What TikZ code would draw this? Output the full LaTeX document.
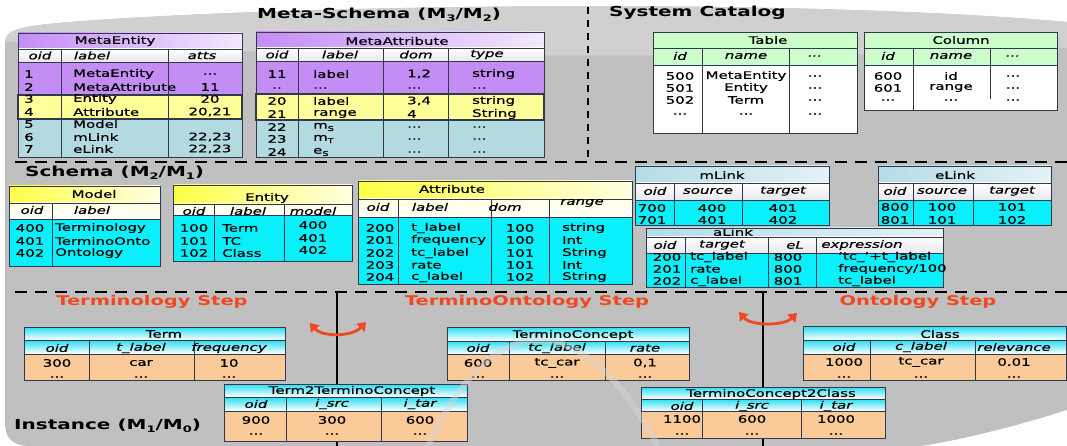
\documentclass[tikz,border=0pt]{standalone}
\usepackage{fontspec}
\setmainfont[FakeStretch=1.45, UprightFeatures={FakeBold=0.7}, ItalicFeatures={FakeBold=0.7}]{DejaVu Sans}
\usetikzlibrary{arrows.meta}
\definecolor{bgdark}{RGB}{192,192,192}
\definecolor{bglight}{RGB}{208,208,208}
\definecolor{mpurple}{RGB}{196,140,245}
\definecolor{mpurpleL}{RGB}{243,232,255}
\definecolor{myellow}{RGB}{255,255,153}
\definecolor{mteal}{RGB}{178,218,224}
\definecolor{hdrgray}{RGB}{232,232,238}
\definecolor{catgreen}{RGB}{204,255,204}
\definecolor{schyellow}{RGB}{255,255,70}
\definecolor{schyellowL}{RGB}{255,255,225}
\definecolor{lnkblue}{RGB}{180,220,230}
\definecolor{lnkblueL}{RGB}{228,242,246}
\definecolor{bodycyan}{RGB}{10,240,250}
\definecolor{inscyan}{RGB}{40,222,242}
\definecolor{peach}{RGB}{250,202,152}
\definecolor{stepred}{RGB}{240,72,32}
\definecolor{rule}{RGB}{50,55,75}
\definecolor{arcgray}{RGB}{215,215,215}
\newcommand{\lowidx}[1]{\raisebox{-0.4ex}{\scalebox{0.65}{#1}}}
\newcommand{\tdots}{...}
\begin{document}
\begin{tikzpicture}[x=1pt, y=-1pt,
  cell/.style={inner sep=0pt, font=\fontsize{10.3}{12}\selectfont},
  lcell/.style={cell, anchor=west},
  hcell/.style={inner sep=0pt, font=\fontsize{10.3}{12}\selectfont\itshape},
  sect/.style={inner sep=0pt, anchor=west, font=\fontsize{13.8}{16}\selectfont\bfseries},
  steptitle/.style={inner sep=0pt, text=stepred, font=\fontsize{13.4}{15}\selectfont\bfseries},
  tline/.style={draw=rule, line width=0.9pt},
  yband/.style={draw=rule, line width=1.3pt},
  dashline/.style={line width=2.4pt, dash pattern=on 12pt off 8pt},
  swaparrow/.style={draw=stepred, line width=2.8pt, {Triangle[width=11pt,length=8pt]}-{Triangle[width=11pt,length=8pt]}},
]
\useasboundingbox (0,0) rectangle (1067,446);
% background cylinder
\fill[bgdark] (5,42) .. controls (5,30) and (20,26) .. (70,22) .. controls (300,4) and (800,-2) .. (1067,22) -- (1067,410) .. controls (1010,428) and (960,440) .. (921,446) -- (30,446) .. controls (12,446) and (5,438) .. (5,422) -- cycle;
\fill[bglight] (5,42) .. controls (5,30) and (20,26) .. (70,22) .. controls (300,4) and (800,-2) .. (1067,22) -- (1067,48) .. controls (800,60) and (300,58) .. (5,42) -- cycle;
% separators
\draw[dashline] (15,162) -- (1067,162);
\draw[dashline] (15,292) -- (1067,292);
\draw[line width=2pt, dash pattern=on 7pt off 6pt] (588,7) -- (588,162);
\draw[line width=2.5pt] (337,292) -- (337,446);
\draw[line width=2.5pt] (763,292) -- (763,446);

% ---------- Meta-Schema ----------
% MetaEntity
\shade[left color=mpurple, right color=mpurpleL] (18,33) rectangle (242,49);
\shade[top color=white, bottom color=hdrgray] (18,49) rectangle (242,62);
\fill[mpurple] (18,62) rectangle (242,95);
\fill[myellow] (18,95) rectangle (242,119);
\fill[mteal] (18,119) rectangle (242,157);
\draw[tline] (18,33) rectangle (242,157) (18,49) -- (242,49) (18,62) -- (242,62) (61,49) -- (61,157) (168,49) -- (168,157);
\draw[yband] (18,95) rectangle (242,119);
\node[cell] (metaentity) at (115,41) {MetaEntity};
\foreach \x/\h [count=\c] in {40/oid, 92/label, 202/atts}
  \node[hcell] (me-h\c) at (\x,55.5) {\h};
\foreach \y/\a/\b/\v [count=\r] in {74/1/MetaEntity/\tdots, 87/2/MetaAttribute/11, 99/3/Entity/20, 112/4/Attribute/{20,21}, 124/5/Model/{}, 137/6/mLink/{22,23}, 149/7/eLink/{22,23}} {
  \node[lcell] (me\r-1) at (24,\y) {\a};
  \node[lcell] (me\r-2) at (73,\y) {\b};
  \node[cell] (me\r-3) at (210,\y) {\v};
}
% MetaAttribute
\shade[left color=mpurple, right color=mpurpleL] (256,32) rectangle (544,48);
\shade[top color=white, bottom color=hdrgray] (256,48) rectangle (544,61);
\fill[mpurple] (256,61) rectangle (544,94);
\fill[myellow] (256,94) rectangle (544,120);
\fill[mteal] (256,120) rectangle (544,157);
\draw[tline] (256,32) rectangle (544,157) (256,48) -- (544,48) (256,61) -- (544,61) (298,48) -- (298,157) (383,48) -- (383,157) (448,48) -- (448,157);
\draw[yband] (256,94) rectangle (544,120);
\node[cell] (metaattribute) at (397,41) {MetaAttribute};
\foreach \x/\h [count=\c] in {277/oid, 340/label, 416/dom, 487/type}
  \node[hcell] (ma-h\c) at (\x,54.5) {\h};
\foreach \y/\a/\b/\v/\w [count=\r] in {74/11/label/{1,2}/string, 88/../\tdots/\tdots/\tdots, 101/20/label/{3,4}/string, 114/21/range/4/String, 127/22/m\lowidx{S}/\tdots/\tdots, 139/23/m\lowidx{T}/\tdots/\tdots, 152/24/e\lowidx{S}/\tdots/\tdots} {
  \node[cell] (ma\r-1) at (277,\y) {\a};
  \node[lcell] (ma\r-2) at (313,\y) {\b};
  \node[lcell] (ma\r-3) at (407,\y) {\v};
  \node[lcell] (ma\r-4) at (472,\y) {\w};
}

% ---------- System Catalog ----------
% Table
\fill[catgreen] (653,32) rectangle (857,65);
\fill[white] (653,65) rectangle (857,133);
\draw[tline] (653,32) rectangle (857,133) (653,48) -- (857,48) (653,65) -- (857,65) (702,48) -- (702,133) (789,48) -- (789,133);
\node[cell] (table) at (768,40) {Table};
\foreach \x/\h [count=\c] in {680/id, 746/name, 815/\tdots}
  \node[hcell] (tb-h\c) at (\x,56) {\h};
\foreach \y/\a/\b [count=\r] in {76/500/MetaEntity, 88/501/Entity, 100/502/Term, 114/\tdots/\tdots} {
  \node[cell] (tb\r-1) at (680,\y) {\a};
  \node[cell] (tb\r-2) at (746,\y) {\b};
  \node[cell] (tb\r-3) at (815,\y) {\tdots};
}
% Column
\fill[catgreen] (864,32) rectangle (1057,65);
\fill[white] (864,65) rectangle (1057,110);
\draw[tline] (864,32) rectangle (1057,110) (864,48) -- (1057,48) (864,65) -- (1057,65) (913,48) -- (913,110) (990,48) -- (990,99);
\node[cell] (column) at (961,40) {Column};
\foreach \x/\h [count=\c] in {888/id, 951/name, 1013/\tdots}
  \node[hcell] (co-h\c) at (\x,56) {\h};
\foreach \y/\a/\b [count=\r] in {76/600/id, 88/601/range, 100/\tdots/\tdots} {
  \node[cell] (co\r-1) at (888,\y) {\a};
  \node[cell] (co\r-2) at (951,\y) {\b};
  \node[cell] (co\r-3) at (1013,\y) {\tdots};
}

% ---------- Schema ----------
% Model
\shade[left color=schyellow, right color=schyellowL] (9,186) rectangle (160,203);
\shade[top color=schyellowL, bottom color=white] (9,203) rectangle (160,219);
\fill[bodycyan] (9,219) rectangle (160,266);
\draw[tline] (9,186) rectangle (160,266) (9,203) -- (160,203) (9,219) -- (160,219) (52,203) -- (52,266);
\node[cell] (model) at (94,194) {Model};
\node[hcell] (mo-h1) at (32,210) {oid};
\node[hcell] (mo-h2) at (92,210) {label};
\foreach \y/\a/\b [count=\r] in {228/400/Terminology, 241/401/TerminoOnto, 253/402/Ontology} {
  \node[cell] (mo\r-1) at (30,\y) {\a};
  \node[lcell] (mo\r-2) at (55,\y) {\b};
}
% Entity
\shade[left color=schyellow, right color=schyellowL] (173,185) rectangle (352,204);
\shade[top color=schyellowL, bottom color=white] (173,204) rectangle (352,215);
\fill[bodycyan] (173,215) rectangle (352,261);
\draw[tline] (173,185) rectangle (352,261) (173,204) -- (352,204) (173,215) -- (352,215) (214,204) -- (214,261) (284,204) -- (284,261);
\node[cell] (entity) at (267,198) {Entity};
\foreach \x/\h [count=\c] in {194/oid, 248/label, 313/model}
  \node[hcell] (en-h\c) at (\x,211) {\h};
\foreach \y/\a/\b/\v [count=\r] in {228/100/Term/400, 241/101/TC/401, 253/102/Class/402} {
  \node[cell] (en\r-1) at (194,\y) {\a};
  \node[lcell] (en\r-2) at (222,\y) {\b};
  \node[cell] (en\r-3) at (313,\y-3) {\v};
}
% Attribute
\shade[left color=schyellow, right color=schyellowL] (358,181) rectangle (632,199);
\shade[top color=schyellowL, bottom color=white] (358,199) rectangle (632,217);
\fill[bodycyan] (358,217) rectangle (632,284);
\draw[tline] (358,181) rectangle (632,284) (358,199) -- (632,199) (358,217) -- (632,217) (398,199) -- (398,284) (491,199) -- (491,284) (549,199) -- (549,284);
\node[cell] (attribute) at (452,189) {Attribute};
\foreach \x/\y/\h [count=\c] in {378/207/oid, 430/207/label, 505/207/dom, 582/203/range}
  \node[hcell] (at-h\c) at (\x,\y) {\h};
\foreach \y/\a/\b/\v/\w [count=\r] in {228/200/t\_label/100/string, 240/201/frequency/100/Int, 253/202/tc\_label/101/String, 265/203/rate/101/Int, 277/204/c\_label/102/String} {
  \node[cell] (at\r-1) at (380,\y) {\a};
  \node[lcell] (at\r-2) at (411,\y) {\b};
  \node[cell] (at\r-3) at (520,\y) {\v};
  \node[lcell] (at\r-4) at (562,\y) {\w};
}
% mLink
\shade[left color=lnkblue, right color=lnkblueL] (635,166) rectangle (829,183);
\shade[top color=white, bottom color=hdrgray] (635,183) rectangle (829,200);
\fill[bodycyan] (635,200) rectangle (829,225);
\draw[tline] (635,166) rectangle (829,225) (635,183) -- (829,183) (635,200) -- (829,200) (674,183) -- (674,225) (742,183) -- (742,225);
\node[cell] (mlink) at (722,175) {mLink};
\foreach \x/\h [count=\c] in {655/oid, 708/source, 783/target}
  \node[hcell] (ml-h\c) at (\x,191) {\h};
\foreach \y/\a/\b/\v [count=\r] in {208/700/400/401, 220/701/401/402} {
  \node[cell] (ml\r-1) at (652,\y) {\a};
  \node[cell] (ml\r-2) at (712,\y) {\b};
  \node[cell] (ml\r-3) at (783,\y) {\v};
}
% eLink
\shade[left color=lnkblue, right color=lnkblueL] (878,166) rectangle (1051,183);
\shade[top color=white, bottom color=hdrgray] (878,183) rectangle (1051,200);
\fill[bodycyan] (878,200) rectangle (1051,225);
\draw[tline] (878,166) rectangle (1051,225) (878,183) -- (1051,183) (878,200) -- (1051,200) (913,183) -- (913,225) (973,183) -- (973,225);
\node[cell] (elink) at (955,175) {eLink};
\foreach \x/\h [count=\c] in {895/oid, 942/source, 1012/target}
  \node[hcell] (el-h\c) at (\x,191) {\h};
\foreach \y/\a/\b/\v [count=\r] in {207/800/100/101, 220/801/101/102} {
  \node[cell] (el\r-1) at (895,\y) {\a};
  \node[cell] (el\r-2) at (942,\y) {\b};
  \node[cell] (el\r-3) at (1012,\y) {\v};
}
% aLink
\shade[left color=lnkblue, right color=lnkblueL] (646,228) rectangle (943,237);
\shade[top color=white, bottom color=hdrgray] (646,237) rectangle (943,253);
\fill[bodycyan] (646,253) rectangle (943,287);
\node[cell] (alink) at (733,232) {aLink};
\draw[tline] (646,228) rectangle (943,287) (646,237) -- (943,237) (646,253) -- (943,253) (685,237) -- (685,287) (768,237) -- (768,287) (816,237) -- (816,287);
\foreach \x/\h [count=\c] in {665/oid, 722/target, 795/eL, 862/expression}
  \node[hcell] (al-h\c) at (\x,245) {\h};
\foreach \y/\a/\b/\v/\w [count=\r] in {257/200/tc\_label/800/‘tc\_’+t\_label, 269/201/rate/800/{frequency/100}, 281/202/c\_label/801/tc\_label} {
  \node[cell] (al\r-1) at (667,\y) {\a};
  \node[lcell] (al\r-2) at (690,\y) {\b};
  \node[cell] (al\r-3) at (788,\y) {\v};
  \node[lcell] (al\r-4) at (838,\y) {\w};
}

% ---------- Instance ----------
% Term
\shade[top color=inscyan, bottom color=white] (24,327) rectangle (285,340);
\shade[top color=inscyan, bottom color=white] (24,340) rectangle (285,354);
\fill[peach] (24,354) rectangle (285,380);
\draw[tline] (24,327) rectangle (285,380) (24,340) -- (285,340) (24,354) -- (285,354) (89,340) -- (89,380) (194,340) -- (194,380);
\node[cell] (term) at (164,334) {Term};
\foreach \x/\h/\v [count=\c] in {57/oid/300, 141/t\_label/car, 229/frequency/10} {
  \node[hcell] (te-h\c) at (\x,348) {\h};
  \node[cell] (te-v\c) at (\x,363) {\v};
  \node[cell] (te-d\c) at (\x,377) {\tdots};
}
% TerminoConcept
\shade[top color=inscyan, bottom color=white] (447,327) rectangle (689,341);
\shade[top color=inscyan, bottom color=white] (447,341) rectangle (689,354);
\fill[peach] (447,354) rectangle (689,380);
\draw[tline] (447,327) rectangle (689,380) (447,341) -- (689,341) (447,354) -- (689,354) (509,341) -- (509,380) (605,341) -- (605,380);
\node[cell] (terminoconcept) at (573,335) {TerminoConcept};
\foreach \x/\h/\v [count=\c] in {478/oid/600, 557/tc\_label/tc\_car, 645/rate/{0,1}} {
  \node[hcell] (tc-h\c) at (\x,348) {\h};
  \node[cell] (tc-v\c) at (\x,363) {\v};
  \node[cell] (tc-d\c) at (\x,377) {\tdots};
}
% Class
\shade[top color=inscyan, bottom color=white] (803,326) rectangle (1066,340);
\shade[top color=inscyan, bottom color=white] (803,340) rectangle (1066,354);
\fill[peach] (803,354) rectangle (1066,380);
\draw[tline] (803,326) rectangle (1066,380) (803,340) -- (1066,340) (803,354) -- (1066,354) (870,340) -- (870,380) (975,340) -- (975,380);
\node[cell] (class) at (940,334) {Class};
\foreach \x/\h/\v [count=\c] in {844/oid/1000, 921/c\_label/tc\_car, 1014/relevance/0.01} {
  \node[hcell] (cl-h\c) at (\x,347) {\h};
  \node[cell] (cl-v\c) at (\x,362) {\v};
  \node[cell] (cl-d\c) at (\x,377) {\tdots};
}
% Term2TerminoConcept
\shade[top color=inscyan, bottom color=white] (224,384) rectangle (467,397);
\shade[top color=inscyan, bottom color=white] (224,397) rectangle (467,411);
\fill[peach] (224,411) rectangle (467,441);
\draw[tline] (224,384) rectangle (467,441) (224,397) -- (467,397) (224,411) -- (467,411) (286,397) -- (286,441) (381,397) -- (381,441);
\node[cell] (term2tc) at (352,391) {Term2TerminoConcept};
\foreach \x/\h/\v [count=\c] in {256/oid/900, 332/i\_src/300, 420/i\_tar/600} {
  \node[hcell] (tt-h\c) at (\x,404) {\h};
  \node[cell] (tt-v\c) at (\x,420) {\v};
  \node[cell] (tt-d\c) at (\x,434) {\tdots};
}
% TerminoConcept2Class
\shade[top color=inscyan, bottom color=white] (641,387) rectangle (885,399);
\shade[top color=inscyan, bottom color=white] (641,399) rectangle (885,411);
\fill[peach] (641,411) rectangle (885,438);
\draw[tline] (641,387) rectangle (885,438) (641,399) -- (885,399) (641,411) -- (885,411) (702,399) -- (702,438) (801,399) -- (801,438);
\node[cell] (tc2class) at (771,394) {TerminoConcept2Class};
\foreach \x/\h/\v [count=\c] in {682/oid/1100, 752/i\_src/600, 836/i\_tar/1000} {
  \node[hcell] (tk-h\c) at (\x,406) {\h};
  \node[cell] (tk-v\c) at (\x,419) {\v};
  \node[cell] (tk-d\c) at (\x,434) {\tdots};
}

% ---------- titles ----------
\node[sect] (metaschema) at (257,15) {Meta-Schema (M\lowidx{3}/M\lowidx{2})};
\node[sect] (syscatalog) at (609,13) {System Catalog};
\node[sect] (schema) at (25,173) {Schema (M\lowidx{2}/M\lowidx{1})};
\node[sect] (instance) at (14,426) {Instance (M\lowidx{1}/M\lowidx{0})};
\node[steptitle] (termstep) at (152,302) {Terminology Step};
\node[steptitle] (tostep) at (527,302) {TerminoOntology Step};
\node[steptitle] (ontostep) at (918,302) {Ontology Step};
\draw[swaparrow] (310,323) .. controls (322,337) and (352,337) .. (366,322);
\draw[swaparrow] (739,312) .. controls (751,326) and (784,326) .. (797,313);
% faint arc
\draw[arcgray, opacity=0.45, line width=6pt] (428,446) .. controls (490,310) and (580,300) .. (658,446);
\end{tikzpicture}
\end{document}
